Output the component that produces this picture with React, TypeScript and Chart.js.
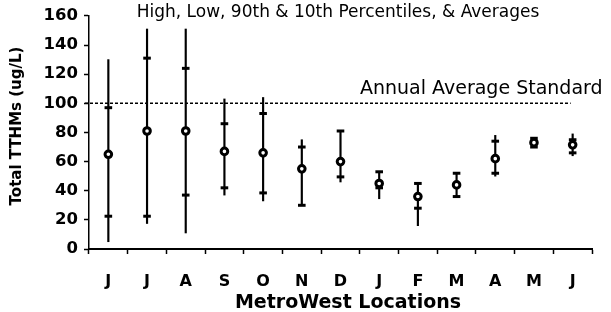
import React, { useEffect, useRef } from "react";
import { Chart, registerables } from "chart.js";

Chart.register(...registerables);

const categories = ["J", "J", "A", "S", "O", "N", "D", "J", "F", "M", "A", "M", "J"];
const highValues = [130, 151, 151, 103, 104, 75, 81, 53, 45, 52, 78, 76, 79];
const p90Values = [97, 131, 124, 86, 93, 70, 81, 53, 45, 52, 74, 76, 75];
const avgValues = [65, 81, 81, 67, 66, 55, 60, 45, 36, 44, 62, 73, 71.5];
const p10Values = [22.5, 22.5, 37, 42, 38.5, 30, 49.5, 42, 28, 36, 52, 70, 66];
const lowValues = [5, 17.5, 11, 37, 33, 30, 46, 34.5, 16, 36, 50, 70, 64];
const standardValue = 100;
const yTicks = [0, 20, 40, 60, 80, 100, 120, 140, 160];

const titleText = "High, Low, 90th & 10th Percentiles, & Averages";
const standardLabel = "Annual Average Standard";
const yTitle = "Total TTHMs (ug/L)";
const xTitle = "MetroWest Locations";

const textPlugin = {
  id: "textPlugin",
  afterDraw(chart: any) {
    const ctx = chart.ctx;
    const { left } = chart.chartArea;
    const x = chart.scales.x;
    const y = chart.scales.y;
    ctx.save();
    const yStd = y.getPixelForValue(standardValue);
    ctx.strokeStyle = "#000";
    ctx.lineWidth = 1.6;
    ctx.setLineDash([3, 2]);
    ctx.beginPath();
    ctx.moveTo(left - 4, yStd);
    ctx.lineTo(x.getPixelForValue(categories.length - 1) - 2, yStd);
    ctx.stroke();
    ctx.setLineDash([]);
    ctx.fillStyle = "#000";
    ctx.font = "19px 'DejaVu Sans'";
    ctx.textAlign = "left";
    ctx.textBaseline = "alphabetic";
    ctx.fillText(standardLabel, 360, yStd - 9);
    ctx.font = "17px 'DejaVu Sans'";
    ctx.textAlign = "center";
    ctx.fillText(titleText, 338, 17);
    ctx.font = "bold 19px 'DejaVu Sans'";
    ctx.fillText(xTitle, 348, 308);
    ctx.translate(17.5, 126);
    ctx.rotate(-Math.PI / 2);
    ctx.font = "bold 15px 'DejaVu Sans'";
    ctx.textBaseline = "middle";
    ctx.fillText(yTitle, 0, 0);
    ctx.restore();
  },
};

export default function App() {
  const ref = useRef<HTMLCanvasElement>(null);
  useEffect(() => {
    if (!ref.current) return;
    const chart = new Chart(ref.current, {
      type: "bar",
      data: {
        labels: categories,
        datasets: [
          {
            type: "line",
            label: "Average",
            data: avgValues,
            showLine: false,
            pointStyle: "circle",
            pointRadius: 3.3,
            pointBorderWidth: 3,
            pointBackgroundColor: "#fff",
            pointBorderColor: "#000",
            order: 0,
          } as any,
          {
            type: "line",
            label: "90th",
            data: p90Values,
            showLine: false,
            pointStyle: "line",
            pointRadius: 3.8,
            pointBorderWidth: 3,
            pointBorderColor: "#000",
            order: 1,
          } as any,
          {
            type: "line",
            label: "10th",
            data: p10Values,
            showLine: false,
            pointStyle: "line",
            pointRadius: 3.8,
            pointBorderWidth: 3,
            pointBorderColor: "#000",
            order: 1,
          } as any,
          {
            type: "bar",
            label: "Range",
            data: lowValues.map((l, i) => [l, highValues[i]]),
            backgroundColor: "#000",
            borderWidth: 0,
            barThickness: 1.5,
            order: 2,
          } as any,
        ],
      },
      options: {
        animation: false,
        responsive: false,
        devicePixelRatio: 1,
        layout: { padding: { top: 15, right: 19, left: 0, bottom: 0 } },
        plugins: {
          legend: { display: false },
          tooltip: { enabled: false },
          title: { display: false },
        },
        scales: {
          x: {
            type: "category",
            offset: true,
            grid: {
              offset: true,
              drawOnChartArea: false,
              drawTicks: true,
              tickLength: 5,
              tickWidth: 1.5,
              tickColor: "#000",
            },
            border: { display: true, color: "#000", width: 2 },
            ticks: {
              color: "#000",
              font: { family: "'DejaVu Sans'", size: 16, weight: "bold" },
              padding: 18,
              maxRotation: 0,
              autoSkip: false,
            },
            afterFit(scale: any) {
              scale.height = 63;
            },
          },
          y: {
            type: "linear",
            min: 0,
            max: 160,
            afterBuildTicks(scale: any) {
              scale.ticks = yTicks.map((v) => ({ value: v }));
            },
            grid: {
              drawOnChartArea: false,
              drawTicks: true,
              tickLength: 5,
              tickWidth: 1.5,
              tickColor: "#000",
            },
            border: { display: true, color: "#000", width: 1.5 },
            ticks: {
              color: "#000",
              font: { family: "'DejaVu Sans'", size: 16.5, weight: "bold" },
              padding: 6,
            },
            afterFit(scale: any) {
              scale.width = 89;
            },
          },
        },
      },
      plugins: [textPlugin],
    });
    return () => chart.destroy();
  }, []);
  return (
    <div style={{ position: "absolute", left: 0, top: 0, width: 611, height: 312, background: "#fff" }}>
      <canvas ref={ref} width={611} height={312} />
    </div>
  );
}
